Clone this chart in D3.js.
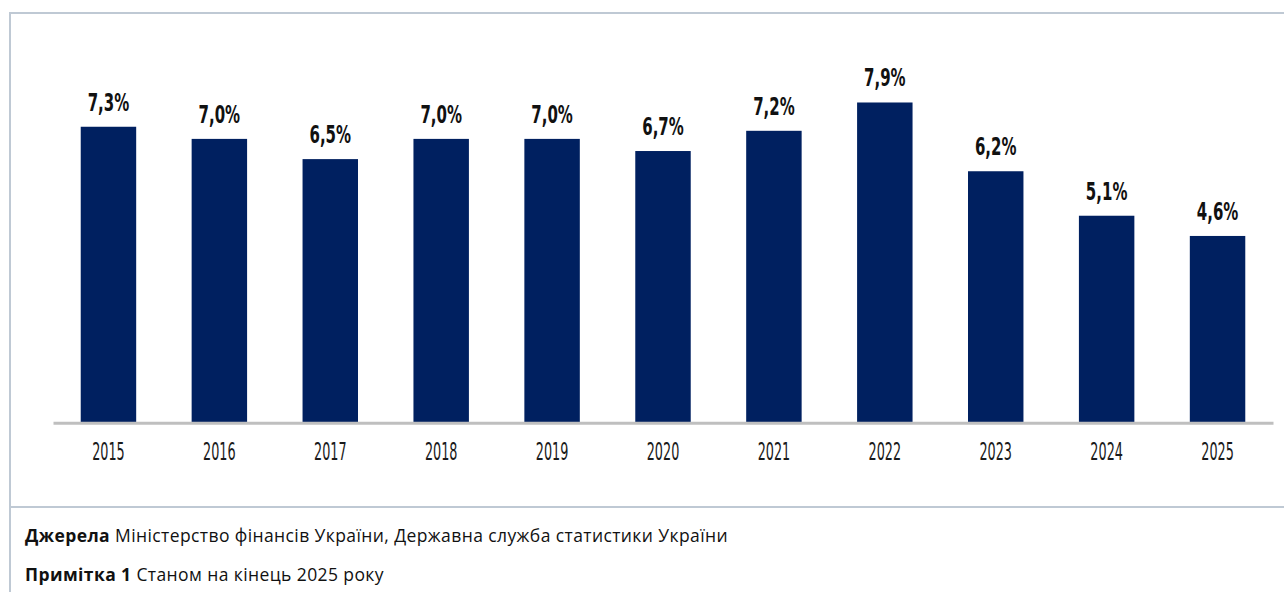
<!DOCTYPE html>
<html>
<head>
<meta charset="utf-8">
<script src="https://cdn.jsdelivr.net/npm/d3@7"></script>
<style>
  html, body { margin: 0; padding: 0; background: #fff; }
  svg { display: block; }
</style>
</head>
<body>
<svg id="chart" width="1284" height="592"></svg>
<script>
// Share by year, per cent
const years = ["2015", "2016", "2017", "2018", "2019", "2020", "2021", "2022", "2023", "2024", "2025"];
const shares = [7.3, 7.0, 6.5, 7.0, 7.0, 6.7, 7.2, 7.9, 6.2, 5.1, 4.6];
const valueLabels = ["7,3%", "7,0%", "6,5%", "7,0%", "7,0%", "6,7%", "7,2%", "7,9%", "6,2%", "5,1%", "4,6%"];
const notes = [
  { head: "Джерела", body: " Міністерство фінансів України, Державна служба статистики України" },
  { head: "Примітка 1", body: " Станом на кінець 2025 року" }
];

const svg = d3.select("#chart");
const condensed = "'DejaVu Sans Condensed', 'Liberation Sans Narrow', 'DejaVu Sans', sans-serif";

// Outer frame and the divider above the notes
svg.append("rect")
  .attr("x", 10).attr("y", 13)
  .attr("width", 1290).attr("height", 600)
  .attr("fill", "none")
  .attr("stroke", "#bfc9d4")
  .attr("stroke-width", 2);
svg.append("line")
  .attr("x1", 10).attr("x2", 1284)
  .attr("y1", 507).attr("y2", 507)
  .attr("stroke", "#bfc9d4")
  .attr("stroke-width", 2);

const x = d3.scaleBand()
  .domain(years)
  .range([53, 1273])
  .paddingInner(0.5)
  .paddingOuter(0.25);

const y = d3.scaleLinear()
  .domain([0, 9])
  .range([422, 58]);

// Bars
svg.append("g")
  .selectAll("rect")
  .data(years)
  .join("rect")
  .attr("x", d => x(d))
  .attr("width", x.bandwidth())
  .attr("y", (d, i) => y(shares[i]))
  .attr("height", (d, i) => y(0) - y(shares[i]))
  .attr("fill", "#002060");

// Value labels above bars
svg.append("g")
  .selectAll("text")
  .data(years)
  .join("text")
  .attr("transform", (d, i) => `translate(${x(d) + x.bandwidth() / 2},${y(shares[i]) - 16}) scale(0.68,1)`)
  .attr("text-anchor", "middle")
  .attr("font-family", condensed)
  .attr("font-weight", "bold")
  .attr("font-size", 24.5)
  .attr("fill", "#111")
  .text((d, i) => valueLabels[i]);

// Baseline axis
const axis = svg.append("g")
  .attr("transform", `translate(0,${y(0) + 0.8})`)
  .call(d3.axisBottom(x).tickSize(0).tickPadding(0));
axis.select(".domain")
  .attr("stroke", "#bfbfbf")
  .attr("stroke-width", 3);
axis.selectAll(".tick text")
  .attr("y", 0)
  .attr("dy", 0)
  .attr("transform", "translate(0,37) scale(0.56,1)")
  .attr("font-family", condensed)
  .attr("font-size", 25.4)
  .attr("fill", "#1a1a1a");

// Notes below the divider
const noteText = svg.append("g")
  .selectAll("text")
  .data(notes)
  .join("text")
  .attr("x", 25)
  .attr("y", (d, i) => 542 + i * 39)
  .attr("font-family", "'Open Sans', 'Noto Sans', sans-serif")
  .attr("font-size", 17.5)
  .attr("letter-spacing", 0.4)
  .attr("fill", "#111");
noteText.append("tspan").attr("font-weight", "bold").text(d => d.head);
noteText.append("tspan").text(d => d.body);
</script>
</body>
</html>
